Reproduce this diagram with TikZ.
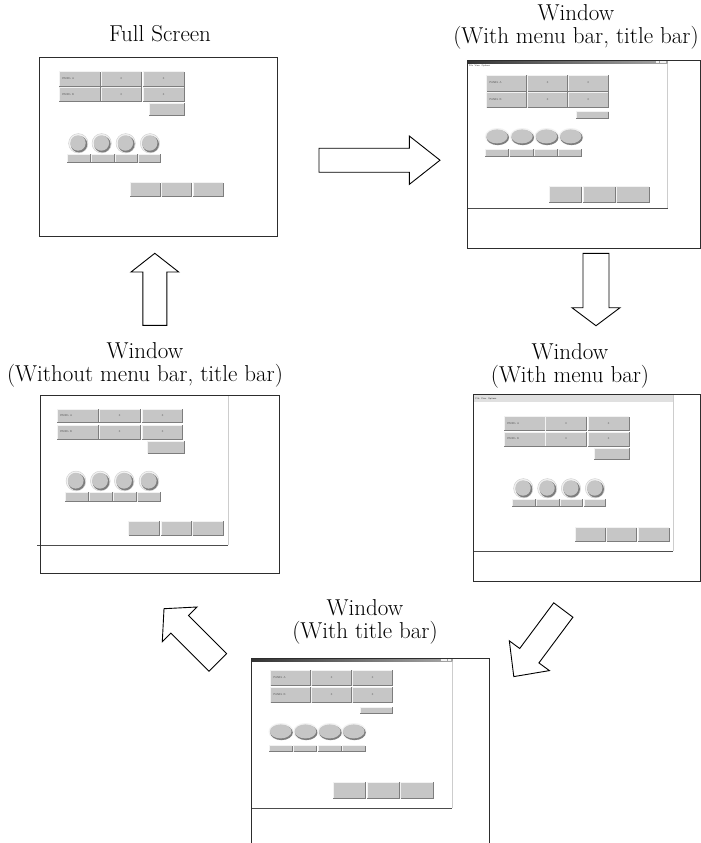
\documentclass[tikz,border=0pt]{standalone}
\newcounter{tinyno}
\definecolor{btnfill}{RGB}{198,198,198}
\definecolor{btndark}{RGB}{125,125,125}
\definecolor{btnlight}{RGB}{242,242,242}
\definecolor{framecol}{RGB}{45,45,45}
\definecolor{edgecol}{RGB}{205,205,205}
\definecolor{tinytext}{RGB}{90,90,90}
\tikzset{
  winframe/.style={draw=framecol, line width=1pt},
  screenedge/.style={draw=edgecol, line width=0.7pt},
  screenbase/.style={draw=black!70, line width=0.9pt},
  bigarrow/.style={draw=black, line width=0.9pt, fill=white, line join=miter},
  caption/.style={align=center, font=\fontsize{23}{23}\selectfont, inner sep=0pt},
  tinylab/.style={font=\fontsize{2.8}{3}\selectfont\sffamily, text=tinytext, inner sep=0pt},
  menulab/.style={font=\fontsize{2.4}{3}\selectfont\sffamily, text=black!80, inner sep=0pt},
}
\newcommand{\ubtn}[4]{%
  \fill[btnfill] (#1,#2) rectangle (#3,#4);
  \draw[btnlight, line width=0.6pt] (#1,#4) -- (#1,#2) -- (#3,#2);
  \draw[btndark, line width=0.8pt] (#1,#4) -- (#3,#4) -- (#3,#2);}
\newcommand{\ucell}[5]{%
  \ubtn{#1}{#2}{#3}{#4}
  \stepcounter{tinyno}\node[tinylab] (t\arabic{tinyno}) at ({(#1+#3)/2},{(#2+#4)/2}) {#5};}
\newcommand{\ulabcell}[5]{%
  \ubtn{#1}{#2}{#3}{#4}
  \stepcounter{tinyno}\node[tinylab, anchor=west] (t\arabic{tinyno}) at ({#1+2.5},{(#2+#4)/2}) {#5};}
\newcommand{\uround}[3]{%
  \fill[btnlight] (#1,#2) circle [radius={#3pt+1.4pt}];
  \draw[edgecol, line width=0.4pt] (#1,#2) circle [radius={#3pt+1.4pt}];
  \fill[btndark] ({#1+0.7},{#2+0.9}) circle [radius={#3pt}];
  \fill[btnfill] ({#1-0.3},{#2-0.3}) circle [radius={#3pt-0.6pt}];}
\newcommand{\uoval}[4]{%
  \fill[btnlight] (#1,#2) ellipse [x radius={#3pt+1.2pt}, y radius={#4pt+1.2pt}];
  \fill[btndark] ({#1+0.5},{#2+0.9}) ellipse [x radius={#3pt}, y radius={#4pt}];
  \fill[btnfill] ({#1-0.3},{#2-0.3}) ellipse [x radius={#3pt-0.5pt}, y radius={#4pt-0.5pt}];}
\begin{document}
\begin{tikzpicture}[x=1pt, y=-1pt]
\useasboundingbox (0,0) rectangle (701,843);
\clip (0,0) rectangle (701,843);
\fill[white] (0,0) rectangle (701,843);

% ---------- captions ----------
\node[caption] (capfull) at (160,34) {Full Screen};
\node[caption] (capmt) at (576,27) {Window\\(With menu bar, title bar)};
\node[caption] (capnone) at (145,365) {Window\\(Without menu bar, title bar)};
\node[caption] (capmenu) at (570,365.5) {Window\\(With menu bar)};
\node[caption] (captitle) at (365,622) {Window\\(With title bar)};

% ---------- 1: Full screen ----------
\draw[winframe] (39.3,57.7) rectangle (277,236);
\ulabcell{59.3}{71.7}{100}{86}{PANEL A}
\ucell{101}{71.7}{141.7}{86}{0}
\ucell{143}{71.7}{184}{86}{0}
\ulabcell{59.3}{87.3}{100}{101}{PANEL B}
\ucell{101}{87.3}{141.7}{101}{0}
\ucell{143}{87.3}{184}{101}{0}
\ubtn{149}{103}{184}{115}
\uround{78.3}{143.3}{8.3}
\uround{101.7}{143.3}{8.3}
\uround{125.7}{143.3}{8.3}
\uround{150}{143.3}{8.3}
\ubtn{67}{154}{90}{162.7}
\ubtn{91}{154}{114}{162.7}
\ubtn{115}{154}{137}{162.7}
\ubtn{138.7}{154}{160.7}{162.7}
\ubtn{130}{182.7}{160}{196}
\ubtn{161.7}{182.7}{191.7}{196}
\ubtn{193}{182.7}{223}{196}

% ---------- 2: with menu bar, title bar ----------
\draw[screenedge] (667.7,61) -- (667.7,208);
\shade[left color=black!80, right color=black!35] (467,61) rectangle (667.7,63.6);
\fill[btnlight] (656,61.5) rectangle (659,63.1);
\fill[btnlight] (659.6,61.5) rectangle (662.6,63.1);
\fill[btnlight] (663.2,61.5) rectangle (666.2,63.1);
\node[menulab, anchor=west] (menu2) at (469,65.6) {File\ \ View\ \ Options};
\ulabcell{486.7}{75}{526.7}{91}{PANEL A}
\ucell{527.7}{75}{567.3}{91}{0}
\ucell{568.3}{75}{608.3}{91}{0}
\ulabcell{486.7}{92.3}{526.7}{107.7}{PANEL B}
\ucell{527.7}{92.3}{567.3}{107.7}{0}
\ucell{568.3}{92.3}{608.3}{107.7}{0}
\ubtn{576}{111.7}{608.7}{118.3}
\uoval{497.3}{136.7}{11.2}{7.5}
\uoval{522.3}{136.7}{11.2}{7.5}
\uoval{546.7}{136.7}{11.2}{7.5}
\uoval{571}{136.7}{11.2}{7.5}
\ubtn{485.3}{149.3}{508.7}{156.7}
\ubtn{509.7}{149.3}{533}{156.7}
\ubtn{534}{149.3}{557.3}{156.7}
\ubtn{558.3}{149.3}{581.7}{156.7}
\ubtn{549.3}{186.7}{581.7}{202.7}
\ubtn{583.3}{186.7}{615.7}{202.7}
\ubtn{616.7}{186.7}{649.3}{202.7}
\draw[screenbase] (467,208) -- (667.7,208);
\draw[winframe] (467,61) rectangle (700.5,248);

% ---------- 3: without menu bar, title bar ----------
\draw[screenedge] (228.3,395) -- (228.3,545);
\ulabcell{57.3}{409.3}{98}{422.7}{PANEL A}
\ucell{99.3}{409.3}{140}{422.7}{0}
\ucell{142.3}{409.3}{182.7}{422.7}{0}
\ulabcell{57.3}{425}{98}{439}{PANEL B}
\ucell{99.3}{425}{140}{439}{0}
\ucell{142.3}{425}{182.7}{439}{0}
\ubtn{147.7}{441}{184}{453.3}
\uround{76}{481}{8.5}
\uround{100.3}{481}{8.5}
\uround{124.3}{481}{8.5}
\uround{149}{481}{8.5}
\ubtn{65.3}{492.3}{88.3}{501}
\ubtn{89.3}{492.3}{112.3}{501}
\ubtn{113.3}{492.3}{136}{501}
\ubtn{137.7}{492.3}{160.3}{501}
\ubtn{128.7}{521}{159.3}{535}
\ubtn{161}{521}{191.3}{535}
\ubtn{192.7}{521}{223.3}{535}
\draw[screenbase] (37.3,545) -- (228.3,545);
\draw[winframe] (40,395) rectangle (279.3,573.3);

% ---------- 4: with menu bar ----------
\fill[black!12] (473.3,394.7) rectangle (673.3,402.3);
\draw[screenedge] (673.3,394.7) -- (673.3,551);
\node[menulab, anchor=west] (menu4) at (475.5,398.5) {File\ \ View\ \ Options};
\ulabcell{504.3}{416.7}{545}{430.7}{PANEL A}
\ucell{545.7}{416.7}{586.7}{430.7}{0}
\ucell{588.3}{416.7}{629}{430.7}{0}
\ulabcell{504.3}{432}{545}{446}{PANEL B}
\ucell{545.7}{432}{586.7}{446}{0}
\ucell{588.3}{432}{629}{446}{0}
\ubtn{594}{448.3}{629.3}{459.3}
\uround{523.3}{488.3}{8.3}
\uround{547.3}{488.3}{8.3}
\uround{571}{488.3}{8.3}
\uround{595}{488.3}{8.3}
\ubtn{512.3}{499.3}{535}{506.7}
\ubtn{536.3}{499.3}{559}{506.7}
\ubtn{560}{499.3}{582.3}{506.7}
\ubtn{584}{499.3}{605.7}{506.7}
\ubtn{575}{527.7}{605.7}{541}
\ubtn{606.7}{527.7}{636.7}{541}
\ubtn{638.3}{527.7}{669}{541}
\draw[screenbase] (473.3,551) -- (673.3,551);
\draw[winframe] (473.3,394.7) rectangle (700.5,581.7);

% ---------- 5: with title bar ----------
\draw[screenedge] (452.3,658.3) -- (452.3,808.3);
\shade[left color=black!80, right color=black!35] (251,658.3) rectangle (452.3,661.5);
\fill[btnlight] (440.5,658.9) rectangle (443.5,660.9);
\fill[btnlight] (444.1,658.9) rectangle (447.1,660.9);
\fill[btnlight] (447.7,658.9) rectangle (450.7,660.9);
\ulabcell{270.7}{670}{310.7}{685.7}{PANEL A}
\ucell{311.7}{670}{351.7}{685.7}{0}
\ucell{352.7}{670}{392.7}{685.7}{0}
\ulabcell{270.7}{687.3}{310.7}{702.7}{PANEL B}
\ucell{311.7}{687.3}{351.7}{702.7}{0}
\ucell{352.7}{687.3}{392.7}{702.7}{0}
\ubtn{360}{707.3}{392.7}{713.3}
\uoval{281}{731.7}{11.3}{7.5}
\uoval{305.7}{731.7}{11.3}{7.5}
\uoval{330}{731.7}{11.3}{7.5}
\uoval{354}{731.7}{11.3}{7.5}
\ubtn{269.3}{745.7}{292.3}{751.7}
\ubtn{293.7}{745.7}{316.7}{751.7}
\ubtn{318}{745.7}{341}{751.7}
\ubtn{342.3}{745.7}{365.3}{751.7}
\ubtn{333.3}{782.3}{365.7}{798.3}
\ubtn{367}{782.3}{399.3}{798.3}
\ubtn{400.7}{782.3}{433.3}{798.3}
\draw[screenbase] (251,808.3) -- (452.3,808.3);
\draw[winframe] (251,850) -- (251,658.3) -- (489.3,658.3) -- (489.3,850);

% ---------- big hollow arrows ----------
\draw[bigarrow] (319,148.2) -- (409.3,148.2) -- (409.3,136) -- (440,160.2) -- (409.3,184.4) -- (409.3,172.2) -- (319,172.2) -- cycle;
\draw[bigarrow] (583,253.3) -- (609,253.3) -- (609,307.7) -- (620,307.7) -- (596,325.7) -- (572,307.7) -- (583,307.7) -- cycle;
\draw[bigarrow] (154.8,253.3) -- (178.7,272) -- (166.8,272) -- (166.8,325.3) -- (142.8,325.3) -- (142.8,272) -- (131,272) -- cycle;
\draw[bigarrow] (164,608.7) -- (196.9,607) -- (188.4,615.5) -- (226.6,653.7) -- (209,671.3) -- (170.8,633.1) -- (162.3,641.6) -- cycle;
\draw[bigarrow] (513.8,676.6) -- (549.4,670.6) -- (538.9,662.9) -- (572.9,617.2) -- (553.7,602.8) -- (519.7,648.5) -- (509.3,640.8) -- cycle;
\end{tikzpicture}
\end{document}
